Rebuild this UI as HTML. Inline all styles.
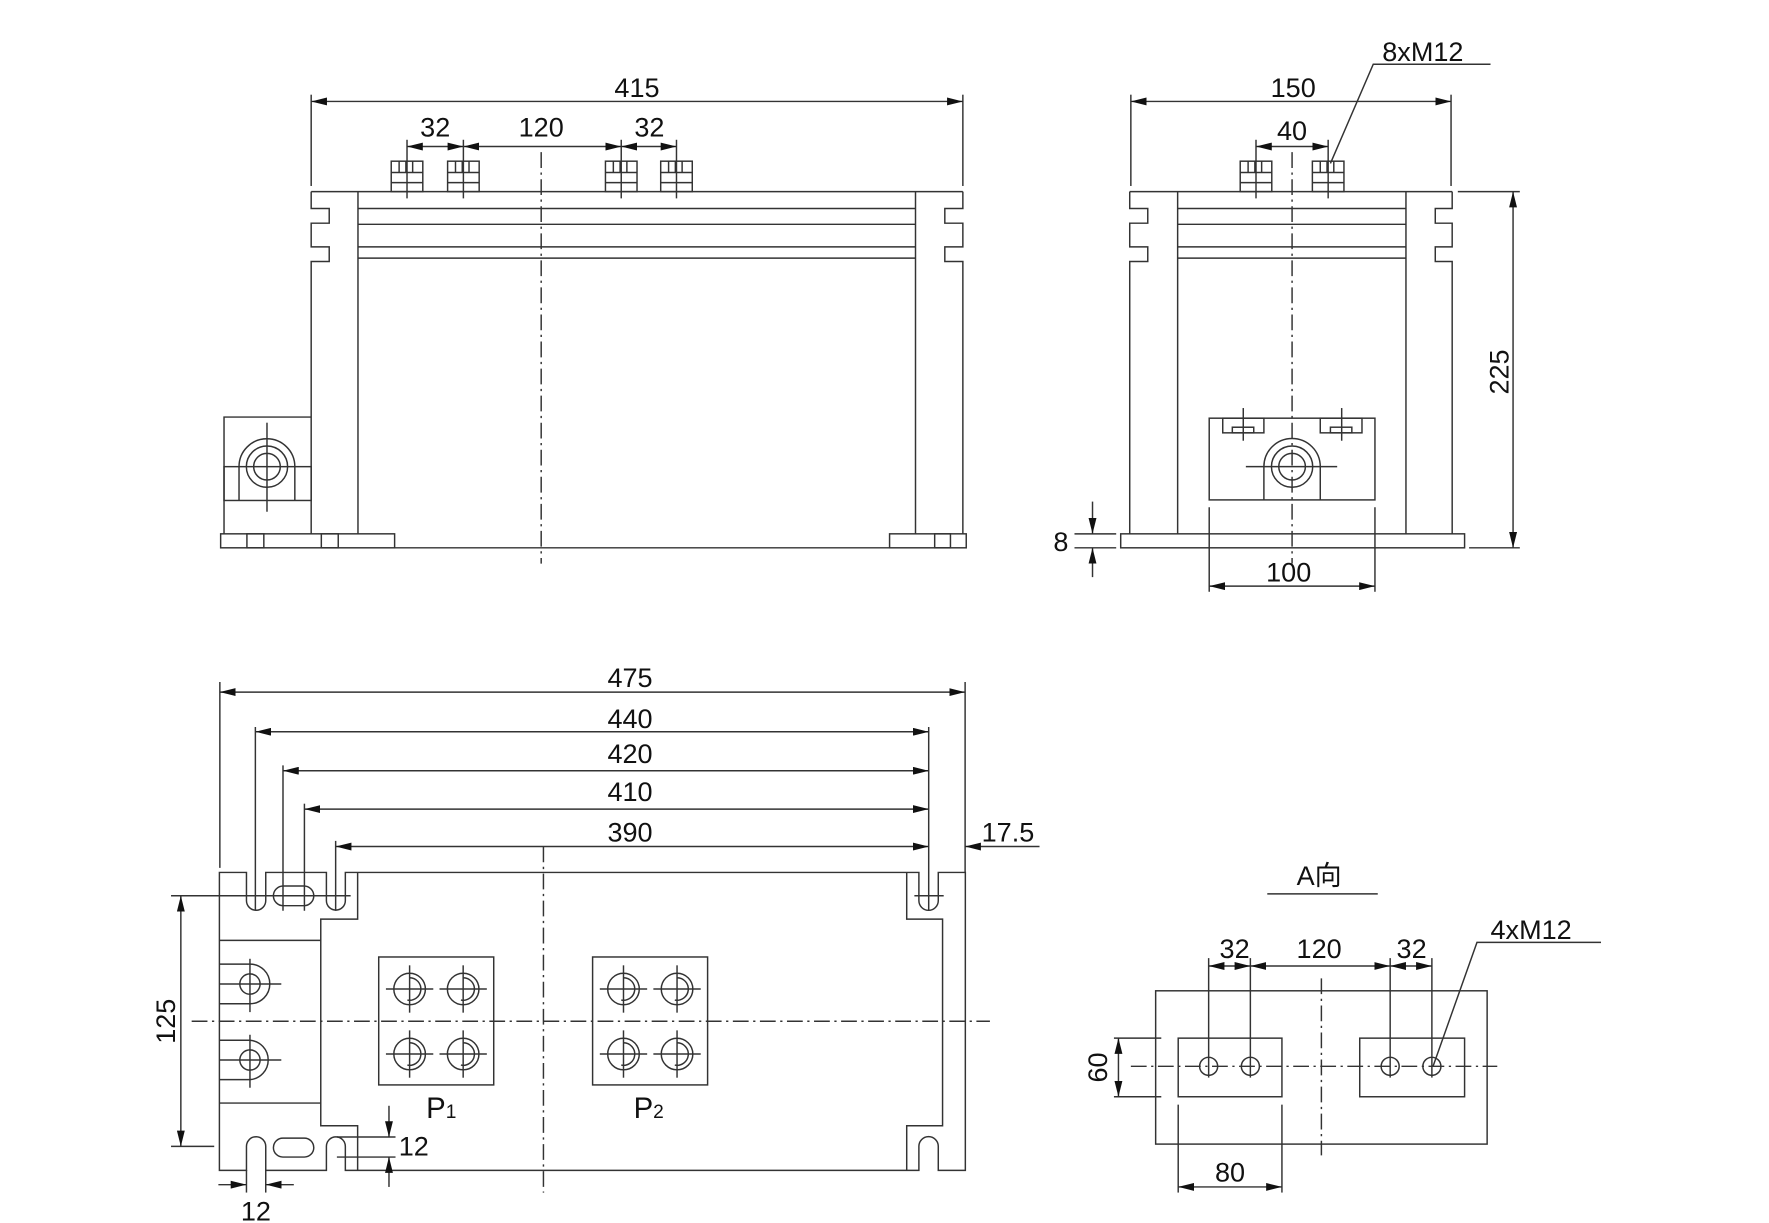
<!DOCTYPE html>
<html><head><meta charset="utf-8"><style>
html,body{margin:0;padding:0;background:#fff;}
svg{display:block;}
text{font-family:"Liberation Sans","Noto Sans CJK SC",sans-serif;fill:#111;}
</style></head><body>
<svg width="1769" height="1223" viewBox="0 0 1569 1085" preserveAspectRatio="none" xmlns="http://www.w3.org/2000/svg">
<defs>
<marker id="a" viewBox="0 0 14 7" refX="14" refY="3.5" markerWidth="14" markerHeight="7" markerUnits="userSpaceOnUse" orient="auto-start-reverse"><path d="M0,0 L14,3.5 L0,7 z" fill="#111"/></marker>
<g id="bolt">
<rect x="-14" y="0" width="28" height="27"/>
<line x1="-7" y1="0" x2="-7" y2="10"/><line x1="-1" y1="0" x2="-1" y2="10"/><line x1="5" y1="0" x2="5" y2="10"/>
<line x1="-14" y1="10" x2="14" y2="10"/><line x1="-14" y1="19" x2="14" y2="19"/>
</g>
<g id="hole">
<circle r="14"/><path d="M0,-10 A10,10 0 1 1 -2,9.8"/>
<line x1="-21" y1="0" x2="21" y2="0"/><line x1="0" y1="-21" x2="0" y2="21"/>
</g>
</defs>
<g fill="none" stroke="#333" stroke-width="1.3">
<!-- ===== FRONT VIEW ===== -->
<line x1="276" y1="170" x2="854" y2="170"/>
<path d="M276,170 V185 H292 V198 H276 V219 H292 V232 H276 V473.6"/>
<path d="M854,170 V185 H838 V198 H854 V219 H838 V232 H854 V473.6"/>
<line x1="317.5" y1="170" x2="317.5" y2="473.6"/>
<line x1="812" y1="170" x2="812" y2="473.6"/>
<line x1="317.5" y1="185" x2="812" y2="185"/><line x1="317.5" y1="199" x2="812" y2="199"/>
<line x1="317.5" y1="219" x2="812" y2="219"/><line x1="317.5" y1="229" x2="812" y2="229"/>
<rect x="195.7" y="473.6" width="154.3" height="12.4"/>
<rect x="219" y="473.6" width="15" height="12.4"/><rect x="285" y="473.6" width="15" height="12.4"/>
<line x1="350" y1="486" x2="789" y2="486"/>
<rect x="789" y="473.6" width="68" height="12.4"/><rect x="829" y="473.6" width="14" height="12.4"/>
<path d="M276,370 H198.7 V473.6"/>
<rect x="198.7" y="414" width="77.3" height="30"/>
<path d="M212,444 V414 A24.7,24.7 0 0 1 261.5,414 V444"/>
<circle cx="236.8" cy="414" r="18.3"/><circle cx="236.8" cy="414" r="11.8"/>
<line x1="236.8" y1="375" x2="236.8" y2="454"/>
<line x1="480" y1="135" x2="480" y2="500" stroke-dasharray="14,4,2,4"/>
<g transform="translate(361,143)"><use href="#bolt"/></g>
<g transform="translate(411,143)"><use href="#bolt"/></g>
<g transform="translate(551,143)"><use href="#bolt"/></g>
<g transform="translate(600,143)"><use href="#bolt"/></g>
<line x1="361" y1="124" x2="361" y2="176"/><line x1="411" y1="124" x2="411" y2="176"/>
<line x1="551" y1="124" x2="551" y2="176"/><line x1="600" y1="124" x2="600" y2="176"/>
<line x1="276" y1="84" x2="276" y2="165"/><line x1="854" y1="84" x2="854" y2="165"/>
<line x1="276" y1="90" x2="854" y2="90" marker-start="url(#a)" marker-end="url(#a)"/>
<line x1="361" y1="130" x2="411" y2="130" marker-start="url(#a)" marker-end="url(#a)"/>
<line x1="411" y1="130" x2="551" y2="130" marker-start="url(#a)" marker-end="url(#a)"/>
<line x1="551" y1="130" x2="600" y2="130" marker-start="url(#a)" marker-end="url(#a)"/>

<!-- ===== SIDE VIEW ===== -->
<line x1="1002" y1="170" x2="1288" y2="170"/>
<path d="M1002,170 V185 H1018 V198 H1002 V219 H1018 V232 H1002 V473.6"/>
<path d="M1288,170 V185 H1273 V198 H1288 V219 H1273 V232 H1288 V473.6"/>
<line x1="1044.5" y1="170" x2="1044.5" y2="473.6"/><line x1="1247" y1="170" x2="1247" y2="473.6"/>
<line x1="1044.5" y1="185" x2="1247" y2="185"/><line x1="1044.5" y1="199" x2="1247" y2="199"/>
<line x1="1044.5" y1="219" x2="1247" y2="219"/><line x1="1044.5" y1="229" x2="1247" y2="229"/>
<rect x="994" y="473.6" width="305" height="12.4"/>
<rect x="1072.5" y="371" width="147" height="72.5"/>
<rect x="1084.5" y="371" width="36.5" height="13"/><rect x="1093" y="379" width="19" height="5"/>
<rect x="1171" y="371" width="37" height="13"/><rect x="1180" y="379" width="19" height="5"/>
<line x1="1102.7" y1="362" x2="1102.7" y2="391"/><line x1="1093" y1="379" x2="1112" y2="379"/>
<line x1="1190" y1="362" x2="1190" y2="391"/>
<path d="M1121,443.5 V414 A25,25 0 0 1 1171,414 V443.5"/>
<circle cx="1146" cy="414" r="18.3"/><circle cx="1146" cy="414" r="11.8"/>
<line x1="1105" y1="414" x2="1186" y2="414"/>
<line x1="1146" y1="135" x2="1146" y2="500" stroke-dasharray="14,4,2,4"/>
<g transform="translate(1114,143)"><use href="#bolt"/></g>
<g transform="translate(1178,143)"><use href="#bolt"/></g>
<line x1="1114" y1="124" x2="1114" y2="176"/><line x1="1178" y1="124" x2="1178" y2="176"/>
<line x1="1003" y1="84" x2="1003" y2="165"/><line x1="1287" y1="84" x2="1287" y2="165"/>
<line x1="1003" y1="90" x2="1287" y2="90" marker-start="url(#a)" marker-end="url(#a)"/>
<line x1="1114" y1="130" x2="1178" y2="130" marker-start="url(#a)" marker-end="url(#a)"/>
<polyline points="1322,57 1218,57 1180,145"/>
<line x1="1293" y1="170" x2="1348" y2="170"/><line x1="1303" y1="486" x2="1348" y2="486"/>
<line x1="1342" y1="170" x2="1342" y2="486" marker-start="url(#a)" marker-end="url(#a)"/>
<line x1="953" y1="473.6" x2="990" y2="473.6"/><line x1="953" y1="486" x2="990" y2="486"/>
<line x1="969" y1="445" x2="969" y2="473.6" marker-end="url(#a)"/>
<line x1="969" y1="512" x2="969" y2="486" marker-end="url(#a)"/>
<line x1="1072.5" y1="450" x2="1072.5" y2="525"/><line x1="1219.5" y1="450" x2="1219.5" y2="525"/>
<line x1="1072.5" y1="520" x2="1219.5" y2="520" marker-start="url(#a)" marker-end="url(#a)"/>

<!-- ===== PLAN VIEW ===== -->
<path d="M194.6,774 H218.6 V799 A8.55,8.55 0 0 0 235.7,799 V774 H289.5 V799 A8.4,8.4 0 0 0 306.3,799 V774 H815 V799 A8.6,8.6 0 0 0 832.2,799 V774 H856.2 V1038.3 H832.2 V1017 A8.6,8.6 0 0 0 815,1017 V1038.3 H306.3 V1017 A8.4,8.4 0 0 0 289.5,1017 V1038.3 H235.7 V1017 A8.55,8.55 0 0 0 218.6,1017 V1038.3 H194.6 Z"/>
<rect x="242.5" y="786" width="35.8" height="17.5" rx="8.75"/>
<rect x="242.5" y="1009.7" width="35.8" height="16.8" rx="8.4"/>
<path d="M317.2,774 V815.4 H284.5 V998.7 H317.2 V1038.3"/>
<path d="M804.2,774 V815.4 H836 V998.7 H804.2 V1038.3"/>
<line x1="194.6" y1="834.3" x2="284.5" y2="834.3"/><line x1="194.6" y1="978.6" x2="284.5" y2="978.6"/>
<path d="M194.6,855.3 H221.7 A17.6,17.6 0 0 1 221.7,890.5 H194.6"/>
<circle cx="221.7" cy="873" r="9"/>
<line x1="194.6" y1="873" x2="249.5" y2="873"/><line x1="221.7" y1="850.6" x2="221.7" y2="897.9"/>
<path d="M194.6,922.9 H221.7 A17.5,17.5 0 0 1 221.7,957.8 H194.6"/>
<circle cx="221.7" cy="940.4" r="9"/>
<line x1="194.6" y1="940.4" x2="249.5" y2="940.4"/><line x1="221.7" y1="918" x2="221.7" y2="965"/>
<rect x="335.9" y="849" width="102" height="113.5"/>
<rect x="525.6" y="849" width="102" height="113.5"/>
<g transform="translate(363.3,877.4)"><use href="#hole"/></g>
<g transform="translate(410.8,877.4)"><use href="#hole"/></g>
<g transform="translate(363.3,935.1)"><use href="#hole"/></g>
<g transform="translate(410.8,935.1)"><use href="#hole"/></g>
<g transform="translate(553,877.4)"><use href="#hole"/></g>
<g transform="translate(600.5,877.4)"><use href="#hole"/></g>
<g transform="translate(553,935.1)"><use href="#hole"/></g>
<g transform="translate(600.5,935.1)"><use href="#hole"/></g>
<line x1="482" y1="751" x2="482" y2="1058" stroke-dasharray="14,4,2,4"/>
<line x1="170" y1="906" x2="878" y2="906" stroke-dasharray="14,4,2,4"/>
<!-- ext lines -->
<line x1="195" y1="605" x2="195" y2="770"/><line x1="856" y1="605" x2="856" y2="774"/>
<line x1="226.5" y1="645" x2="226.5" y2="808"/><line x1="251" y1="679" x2="251" y2="808"/>
<line x1="270" y1="713" x2="270" y2="808"/><line x1="297.7" y1="746" x2="297.7" y2="808"/>
<line x1="823.7" y1="645" x2="823.7" y2="808"/>
<line x1="195" y1="614" x2="856" y2="614" marker-start="url(#a)" marker-end="url(#a)"/>
<line x1="226.5" y1="649.2" x2="823.7" y2="649.2" marker-start="url(#a)" marker-end="url(#a)"/>
<line x1="251" y1="683.8" x2="823.7" y2="683.8" marker-start="url(#a)" marker-end="url(#a)"/>
<line x1="270" y1="717.8" x2="823.7" y2="717.8" marker-start="url(#a)" marker-end="url(#a)"/>
<line x1="297.7" y1="751" x2="823.7" y2="751" marker-start="url(#a)" marker-end="url(#a)"/>
<line x1="922" y1="751" x2="856" y2="751" marker-end="url(#a)"/>
<line x1="151.7" y1="794.7" x2="311" y2="794.7"/>
<line x1="151.7" y1="1017" x2="190" y2="1017"/>
<line x1="160.4" y1="794.7" x2="160.4" y2="1017" marker-start="url(#a)" marker-end="url(#a)"/>
<line x1="811" y1="794.7" x2="837" y2="794.7"/>
<line x1="298.8" y1="1008.7" x2="350.8" y2="1008.7"/><line x1="298.8" y1="1026.5" x2="350.8" y2="1026.5"/>
<line x1="345" y1="981" x2="345" y2="1008.7" marker-end="url(#a)"/>
<line x1="345" y1="1053" x2="345" y2="1026.5" marker-end="url(#a)"/>
<line x1="218.6" y1="1038" x2="218.6" y2="1058"/><line x1="235.7" y1="1038" x2="235.7" y2="1058"/>
<line x1="193.7" y1="1051" x2="218.6" y2="1051" marker-end="url(#a)"/>
<line x1="260.6" y1="1051" x2="235.7" y2="1051" marker-end="url(#a)"/>

<!-- ===== A VIEW ===== -->
<line x1="1124" y1="793" x2="1222" y2="793"/>
<rect x="1025" y="879" width="294" height="136"/>
<rect x="1045" y="921" width="92" height="52"/>
<rect x="1206" y="921" width="93" height="52"/>
<circle cx="1072" cy="946" r="8"/><circle cx="1109" cy="946" r="8"/>
<circle cx="1233" cy="946" r="8"/><circle cx="1270" cy="946" r="8"/>
<line x1="1003" y1="946" x2="1328" y2="946" stroke-dasharray="14,4,2,4"/>
<line x1="1172" y1="868" x2="1172" y2="1025" stroke-dasharray="14,4,2,4"/>
<line x1="1072" y1="850" x2="1072" y2="956"/><line x1="1109" y1="850" x2="1109" y2="956"/>
<line x1="1233" y1="850" x2="1233" y2="956"/><line x1="1270" y1="850" x2="1270" y2="956"/>
<line x1="1072" y1="857" x2="1109" y2="857" marker-start="url(#a)" marker-end="url(#a)"/>
<line x1="1109" y1="857" x2="1233" y2="857" marker-start="url(#a)" marker-end="url(#a)"/>
<line x1="1233" y1="857" x2="1270" y2="857" marker-start="url(#a)" marker-end="url(#a)"/>
<polyline points="1420,836 1310,836 1271,946"/>
<line x1="988" y1="921" x2="1030" y2="921"/><line x1="988" y1="973" x2="1030" y2="973"/>
<line x1="992" y1="921" x2="992" y2="973" marker-start="url(#a)" marker-end="url(#a)"/>
<line x1="1045" y1="980" x2="1045" y2="1058"/><line x1="1137" y1="980" x2="1137" y2="1058"/>
<line x1="1045" y1="1053" x2="1137" y2="1053" marker-start="url(#a)" marker-end="url(#a)"/>
</g>
<g font-size="24" text-anchor="middle">
<text x="565" y="86">415</text>
<text x="386" y="121">32</text><text x="480" y="121">120</text><text x="576" y="121">32</text>
<text x="1147" y="86">150</text><text x="1146" y="124">40</text>
<text x="1262" y="54">8xM12</text>
<text x="1338" y="330" transform="rotate(-90 1338 330)">225</text>
<text x="941" y="489">8</text>
<text x="1143" y="516">100</text>
<text x="558.8" y="609.6">475</text><text x="558.8" y="646">440</text>
<text x="558.8" y="676.8">420</text><text x="558.8" y="710.7">410</text>
<text x="558.8" y="746.5">390</text>
<text x="894" y="746.5">17.5</text>
<text x="155" y="906" transform="rotate(-90 155 906)">125</text>
<text x="367" y="1025">12</text>
<text x="227" y="1083">12</text>
<text x="1170" y="785">A向</text>
<text x="1095" y="850">32</text><text x="1170" y="850">120</text><text x="1252" y="850">32</text>
<text x="1358" y="833">4xM12</text>
<text x="982" y="947" transform="rotate(-90 982 947)">60</text>
<text x="1091" y="1048">80</text>
<text x="378" y="992" text-anchor="start" font-size="26">P<tspan font-size="17">1</tspan></text>
<text x="562" y="992" text-anchor="start" font-size="26">P<tspan font-size="17">2</tspan></text>
</g>
</svg>
</body></html>
